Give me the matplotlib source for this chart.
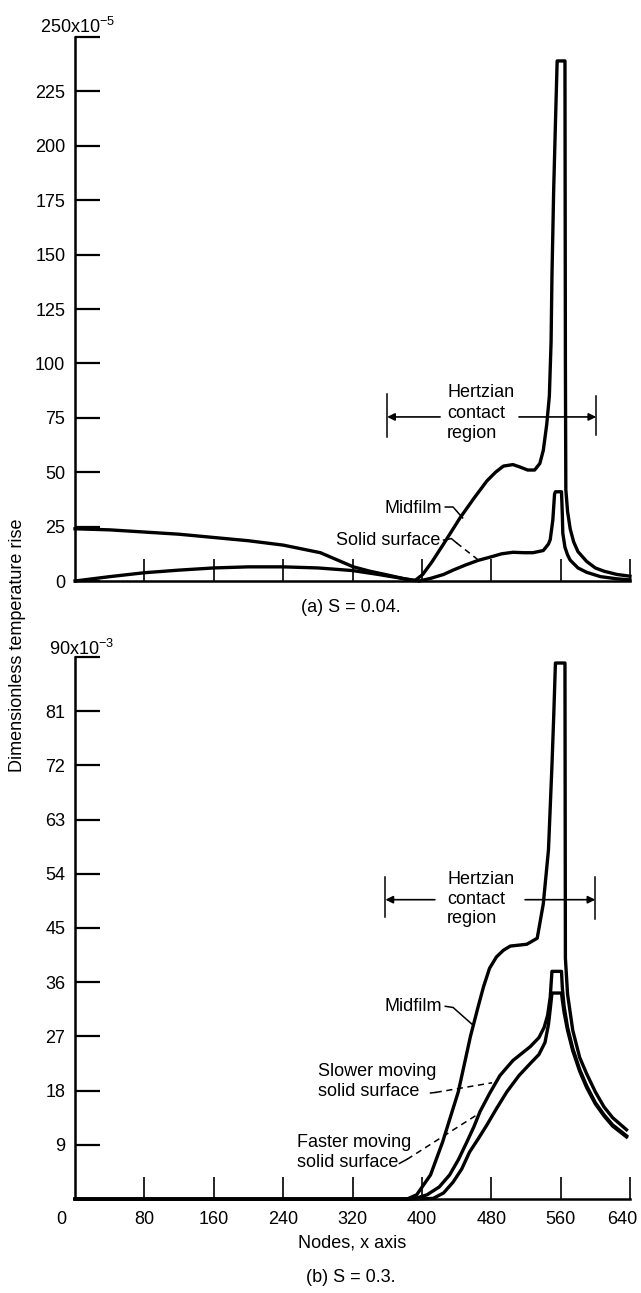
import matplotlib.pyplot as plt
import matplotlib.transforms as mtransforms

plt.rcParams['font.family'] = ['Liberation Sans', 'DejaVu Sans']
plt.rcParams['mathtext.default'] = 'regular'

# ---- (a) S = 0.04 ----
midfilm_a_x = [0, 40, 80, 120, 160, 200, 240, 283, 321, 340, 360, 380, 392, 401, 412,
               425, 444, 460, 475, 485, 494, 505, 513, 522, 530, 536, 540, 544, 547,
               549, 550, 552, 554, 556, 565, 565.5, 566, 568, 571, 575, 580, 590, 600,
               610, 625, 640]
midfilm_a_y = [24, 23.5, 22.5, 21.5, 20, 18.5, 16.5, 13, 6.5, 4.5, 2.8, 1, 0.2, 3, 9,
               17, 29, 38, 46, 50, 52.8, 53.5, 52.4, 51, 51, 54, 60, 72, 85,
               110, 140, 180, 210, 239, 239, 100, 42, 32, 24, 18, 13.5, 9, 6,
               4.5, 3, 2.2]
solid_a_x = [0, 40, 80, 120, 160, 200, 240, 280, 320, 350, 380, 397, 410, 425, 436,
             450, 465, 479, 492, 505, 518, 528, 540, 546, 548, 551, 553, 554, 561,
             562, 562.5, 565, 568, 571, 580, 590, 606, 625, 640]
solid_a_y = [0, 2, 3.8, 5, 6, 6.5, 6.5, 6, 4.8, 3, 1, 0, 1.2, 3, 5,
             7.3, 9.5, 11, 12.5, 13.2, 13, 13, 14, 17, 19, 28, 40, 41, 41,
             30, 22, 15.5, 12, 9.6, 6, 4, 2, 1, 0.5]

# ---- (b) S = 0.3 ----
midfilm_b_x = [0, 383, 394, 410, 424, 442, 456, 465, 471, 478, 486, 494, 502, 521,
               533, 540, 544, 546, 548, 550, 552, 554, 565, 565.5, 568, 574, 582, 590,
               600, 610, 620, 636]
midfilm_b_y = [0, 0, 0.7, 4, 9.5, 17.8, 27, 32, 35.2, 38.3, 40.2, 41.3, 42, 42.3,
               43.3, 49, 55, 58, 65, 72, 80, 89, 89, 40, 34, 28, 23.5, 20.8,
               17.8, 15.3, 13.5, 11.5]
slower_b_x = [0, 385, 395, 406, 420, 432, 442, 452, 460, 467, 478, 490, 505, 525,
              535, 541, 545, 548, 550, 561, 562, 564, 568, 574, 582, 590, 600, 610,
              620, 636]
slower_b_y = [0, 0, 0.2, 0.7, 2, 4, 6.5, 9.5, 12, 14.5, 17.5, 20.5, 23, 25.3,
              26.8, 28.5, 30.5, 33.5, 37.8, 37.8, 35, 32, 28.5, 25, 21.5, 18.8, 16, 14,
              12.3, 10.5]
faster_b_x = [0, 395, 413, 425, 436, 446, 455, 465, 475, 486, 498, 512, 525, 535,
              542, 546, 548, 550, 561, 562, 564, 568, 574, 582, 590, 600, 610, 620,
              636]
faster_b_y = [0, 0, 0.1, 1, 2.8, 5, 7.8, 10, 12.3, 15, 17.8, 20.5, 22.5, 24,
              26, 29, 31.5, 34.2, 34.2, 33, 31, 28, 24.6, 21.2, 18.5, 15.8, 13.8, 12.1,
              10.3]

node_ticks = [0, 80, 160, 240, 320, 400, 480, 560, 640]
yticks_a = [0, 25, 50, 75, 100, 125, 150, 175, 200, 225, 250]
yticks_b = [0, 9, 18, 27, 36, 45, 54, 63, 72, 81, 90]

FS = 13
LW = 2.4

fig = plt.figure(figsize=(6.41, 12.93), dpi=100)
ax_a = fig.add_axes([75 / 641, 1 - 581 / 1293, 555 / 641, 544 / 1293])
ax_b = fig.add_axes([75 / 641, 1 - 1199 / 1293, 555 / 641, 542 / 1293])


def style_axes(ax, yticks, ymax):
    ax.set_xlim(0, 640)
    ax.set_ylim(0, ymax)
    for side in ("top", "right"):
        ax.spines[side].set_visible(False)
    for side in ("left", "bottom"):
        ax.spines[side].set_linewidth(1.8)
    ax.set_xticks(node_ticks[1:])
    ax.set_yticks(yticks)
    ax.tick_params(axis="x", direction="in", length=16, width=1.2, pad=9, labelsize=FS)
    ax.tick_params(axis="y", direction="in", length=18, width=1.6, pad=7, labelsize=FS)


line_kw = dict(color="black", lw=LW, solid_joinstyle="round", clip_on=False)
leader_kw = dict(color="black", lw=1.1)
arrow_kw = dict(arrowstyle="-|>", color="black", lw=1.2, shrinkA=0, shrinkB=0,
                mutation_scale=11)

# ---- panel (a) ----
style_axes(ax_a, yticks_a, 250)
ax_a.plot(midfilm_a_x, midfilm_a_y, **line_kw)
ax_a.plot(solid_a_x, solid_a_y, **line_kw)
ax_a.set_xticklabels([])
ax_a.set_yticklabels([str(v) for v in yticks_a[:-1]] + [""])
ax_a.annotate("250x10$^{-5}$", xy=(0, 250), xycoords=ax_a.get_yaxis_transform(),
              xytext=(-25, 7), textcoords="offset points", ha="left", va="center",
              fontsize=FS)

ax_a.text(429, 77.2, "Hertzian\ncontact\nregion", ha="left", va="center",
          fontsize=FS, linespacing=1.25)
ax_a.annotate("", xy=(360, 75.4), xytext=(421, 75.4), arrowprops=arrow_kw)
ax_a.annotate("", xy=(601, 75.4), xytext=(512, 75.4), arrowprops=arrow_kw)
ax_a.plot([360, 360], [66, 86], **leader_kw)
ax_a.plot([601, 601], [67, 85], **leader_kw)

ax_a.text(423, 33.5, "Midfilm", ha="right", va="center", fontsize=FS)
ax_a.plot([427, 436, 447], [34, 34, 29], **leader_kw)
ax_a.text(421, 18.8, "Solid surface", ha="right", va="center", fontsize=FS)
ax_a.plot([425, 434, 440], [18.8, 19.5, 17.5], **leader_kw)
ax_a.plot([440, 464], [17.5, 10], ls=(0, (4, 3)), **leader_kw)

# ---- panel (b) ----
style_axes(ax_b, yticks_b, 90)
ax_b.plot(midfilm_b_x, midfilm_b_y, **line_kw)
ax_b.plot(slower_b_x, slower_b_y, **line_kw)
ax_b.plot(faster_b_x, faster_b_y, **line_kw)
ax_b.set_xticklabels([str(v) for v in node_ticks[1:]])
last = ax_b.get_xticklabels()[-1]
last.set_transform(last.get_transform()
                   + mtransforms.ScaledTranslation(-8 / 100, 0, fig.dpi_scale_trans))
ax_b.set_yticklabels([""] + [str(v) for v in yticks_b[1:-1]] + [""])
ax_b.annotate("90x10$^{-3}$", xy=(0, 90), xycoords=ax_b.get_yaxis_transform(),
              xytext=(-19, 6), textcoords="offset points", ha="left", va="center",
              fontsize=FS)
ax_b.annotate("0", xy=(0, 0), xycoords="data", xytext=(-10, -15),
              textcoords="offset points", ha="center", va="center", fontsize=FS)
ax_b.set_xlabel("Nodes, x axis", fontsize=FS, labelpad=4)

ax_b.text(429, 49.8, "Hertzian\ncontact\nregion", ha="left", va="center",
          fontsize=FS, linespacing=1.2)
ax_b.annotate("", xy=(358, 49.7), xytext=(415, 49.7), arrowprops=arrow_kw)
ax_b.annotate("", xy=(600, 49.7), xytext=(519, 49.7), arrowprops=arrow_kw)
ax_b.plot([358, 358], [46.8, 53.5], **leader_kw)
ax_b.plot([600, 600], [46.5, 53.5], **leader_kw)

ax_b.text(423, 31.9, "Midfilm", ha="right", va="center", fontsize=FS)
ax_b.plot([427, 436, 458], [32, 31.8, 29], **leader_kw)
ax_b.text(280, 19.5, "Slower moving\nsolid surface", ha="left", va="center",
          fontsize=FS, linespacing=1.2)
ax_b.plot([410, 416], [17.6, 17.7], **leader_kw)
ax_b.plot([416, 481], [17.7, 19.3], ls=(0, (4, 3)), **leader_kw)
ax_b.text(256, 7.7, "Faster moving\nsolid surface", ha="left", va="center",
          fontsize=FS, linespacing=1.2)
ax_b.plot([374, 383], [5.9, 6.6], **leader_kw)
ax_b.plot([383, 467], [6.6, 14.3], ls=(0, (4, 3)), **leader_kw)

# ---- figure text ----
fig.text(18 / 641, 1 - 645 / 1293, "Dimensionless temperature rise", rotation=90,
         ha="center", va="center", fontsize=FS)
fig.text(351 / 641, 1 - 607 / 1293, "(a) S = 0.04.", ha="center", va="center",
         fontsize=FS)
fig.text(351 / 641, 1 - 1278 / 1293, "(b) S = 0.3.", ha="center", va="center",
         fontsize=FS)

fig.savefig("out.png", dpi=100)
